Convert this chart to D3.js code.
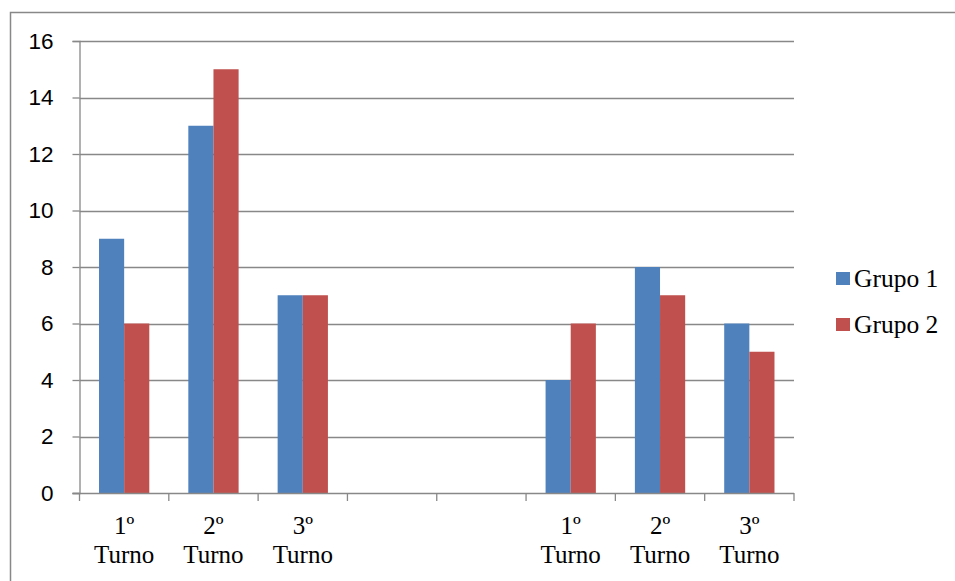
<!DOCTYPE html>
<html>
<head>
<meta charset="utf-8">
<script src="https://cdn.jsdelivr.net/npm/d3@7/dist/d3.min.js"></script>
<style>
  html, body { margin: 0; padding: 0; background: #fff; }
  svg { display: block; }
</style>
</head>
<body>
<svg id="chart" width="955" height="581"></svg>
<script>
// Shift categories (two blank slots separate the two blocks)
const categories = ["1º Turno", "2º Turno", "3º Turno", "", "", "1º Turno", "2º Turno", "3º Turno"];
const seriesNames = ["Grupo 1", "Grupo 2"];
const grupo1 = [9, 13, 7, null, null, 4, 8, 6];
const grupo2 = [6, 15, 7, null, null, 6, 7, 5];
const yTicks = [0, 2, 4, 6, 8, 10, 12, 14, 16];
const colors = ["#4F81BD", "#C0504D"];

const svg = d3.select("#chart");
const gridColor = "#888888";

// Outer frame
svg.append("rect")
  .attr("x", 10.5).attr("y", 12.5)
  .attr("width", 1000).attr("height", 1000)
  .attr("fill", "none").attr("stroke", gridColor).attr("stroke-width", 1.5);

const plot = { left: 79.5, right: 794, top: 41, bottom: 493 };

const x0 = d3.scaleBand()
  .domain(d3.range(categories.length))
  .range([plot.left, plot.right])
  .paddingInner(0).paddingOuter(0);

const groupFrac = 0.563;
const x1 = d3.scaleBand()
  .domain(d3.range(seriesNames.length))
  .range([x0.bandwidth() * (1 - groupFrac) / 2, x0.bandwidth() * (1 + groupFrac) / 2]);

const y = d3.scaleLinear().domain([0, 16]).range([plot.bottom, plot.top]);

// Horizontal gridlines
svg.append("g")
  .selectAll("line")
  .data(yTicks.filter(v => v > 0))
  .join("line")
  .attr("x1", plot.left).attr("x2", plot.right)
  .attr("y1", d => Math.round(y(d)) + 0.5).attr("y2", d => Math.round(y(d)) + 0.5)
  .attr("stroke", gridColor).attr("stroke-width", 1.3);

// Bars
const rows = categories.map((c, i) => ({ i, values: [grupo1[i], grupo2[i]] }));
svg.append("g")
  .selectAll("g")
  .data(rows)
  .join("g")
  .attr("transform", d => `translate(${x0(d.i)},0)`)
  .selectAll("rect")
  .data(d => d.values.map((v, s) => ({ v, s })).filter(e => e.v != null))
  .join("rect")
  .attr("x", d => x1(d.s))
  .attr("width", x1.bandwidth())
  .attr("y", d => y(d.v))
  .attr("height", d => y(0) - y(d.v))
  .attr("fill", d => colors[d.s]);

// Y axis
const yAxis = d3.axisLeft(y).tickValues(yTicks).tickSize(7).tickPadding(19).tickFormat(d3.format("d"));
const gy = svg.append("g")
  .attr("transform", `translate(${plot.left},0)`)
  .call(yAxis);
gy.select(".domain").attr("stroke", gridColor).attr("stroke-width", 1.3);
gy.selectAll(".tick line").attr("stroke", gridColor).attr("stroke-width", 1.3);
gy.selectAll(".tick text")
  .attr("font-family", "'Liberation Sans', Arial, sans-serif")
  .attr("font-size", 22.5)
  .attr("fill", "#000");

// X axis: ticks on category boundaries
const boundaries = d3.range(categories.length + 1).map(i => plot.left + i * x0.bandwidth());
const gx = svg.append("g");
gx.append("line")
  .attr("x1", plot.left - 7).attr("x2", plot.right)
  .attr("y1", plot.bottom + 0.5).attr("y2", plot.bottom + 0.5)
  .attr("stroke", gridColor).attr("stroke-width", 1.3);
gx.selectAll("line.tk")
  .data(boundaries)
  .join("line")
  .attr("class", "tk")
  .attr("x1", d => d).attr("x2", d => d)
  .attr("y1", plot.bottom).attr("y2", plot.bottom + 8)
  .attr("stroke", gridColor).attr("stroke-width", 1.3);

// Category labels (two lines)
const labels = gx.selectAll("text.cat")
  .data(categories.map((c, i) => ({ c, i })).filter(d => d.c))
  .join("text")
  .attr("class", "cat")
  .attr("text-anchor", "middle")
  .attr("font-family", "'Liberation Serif', 'Times New Roman', serif")
  .attr("font-size", 25)
  .attr("fill", "#000");
labels.each(function (d) {
  const cx = x0(d.i) + x0.bandwidth() / 2;
  const parts = d.c.split(" ");
  const t = d3.select(this);
  t.append("tspan").attr("x", cx).attr("y", 534).text(parts[0]);
  t.append("tspan").attr("x", cx).attr("y", 563).text(parts[1]);
});

// Legend
const legend = svg.append("g")
  .selectAll("g")
  .data(seriesNames)
  .join("g")
  .attr("transform", (d, i) => `translate(836,${272 + i * 46})`);
legend.append("rect")
  .attr("width", 14).attr("height", 13)
  .attr("fill", (d, i) => colors[i]);
legend.append("text")
  .attr("x", 18).attr("y", 14.5)
  .attr("font-family", "'Liberation Serif', 'Times New Roman', serif")
  .attr("font-size", 25.5)
  .attr("fill", "#000")
  .text(d => d);
</script>
</body>
</html>
